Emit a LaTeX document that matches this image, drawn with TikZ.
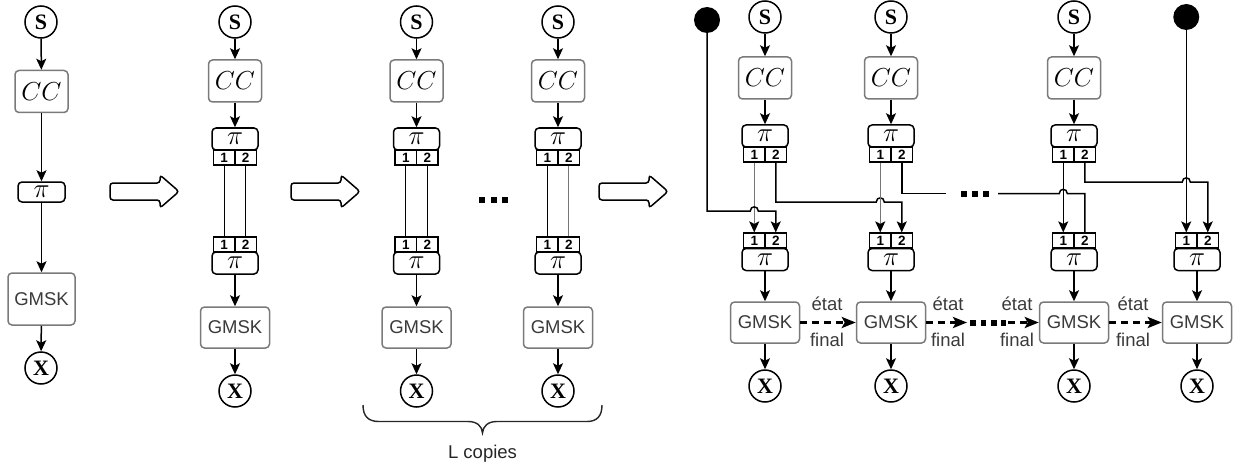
\RequirePackage{fix-cm}
\documentclass[tikz,border=0pt]{standalone}
\usepackage{fontspec}
\newfontfamily\sansf{Liberation Sans}
\newfontfamily\seriff{Liberation Serif}
\usetikzlibrary{arrows.meta,calc}
\definecolor{gbord}{HTML}{7A7A7A}
\definecolor{gtext}{HTML}{3A3A3A}
\definecolor{lgray}{HTML}{767676}

\newcommand{\mktop}[6]{%
  \node[circ] (#1S) at (#2,#3) {S};
  \node[ccbox] (#1C) at (#2,#4) {$CC$};
  \node[pibox] (#1P) at (#2,#5) {$\pi$};
  \node[cellbox] (#1ta) at (#2-10.75,#6) {1};
  \node[cellbox] (#1tb) at (#2+10.75,#6) {2};
  \draw[arr] (#1S) -- (#1C);
  \draw[arr] (#1C) -- (#1P);
}
\newcommand{\mkbot}[6]{%
  \node[cellbox] (#1ba) at (#2-10.75,#3) {1};
  \node[cellbox] (#1bb) at (#2+10.75,#3) {2};
  \node[pibox] (#1Q) at (#2,#4) {$\pi$};
  \node[gbox] (#1G) at (#2,#5) {GMSK};
  \node[circ] (#1X) at (#2,#6) {X};
  \draw[arr] (#1Q) -- (#1G);
  \draw[arr] (#1G) -- (#1X);
}
\newcommand{\bigarr}[1]{%
  \draw[bigarrow] (#1,191.5) -- (#1,183) -- (#1+50,183) -- (#1+50,175) -- (#1+69,191.5) -- (#1+50,208) -- (#1+50,200) -- (#1,200) -- cycle;}

\begin{document}
\begin{tikzpicture}[x=1pt,y=-1pt,
  conn/.style={line width=1.5pt,draw=black},
  arr/.style={conn,-{Stealth[length=11pt,width=10pt,inset=2.5pt,color=black]}},
  circ/.style={circle,draw,line width=1.5pt,minimum size=32pt,inner sep=0pt,
    font=\seriff\bfseries\fontsize{22}{22}\selectfont},
  ccbox/.style={draw=gbord,line width=1.5pt,rounded corners=4pt,minimum width=53pt,
    minimum height=42pt,inner sep=0pt,font=\fontsize{26}{26}\selectfont},
  gbox/.style={draw=gbord,line width=1.5pt,rounded corners=4pt,minimum width=69pt,
    minimum height=41pt,inner sep=0pt,text=gtext,font=\sansf\fontsize{18.5}{18.5}\selectfont},
  pibox/.style={draw,line width=1.5pt,rounded corners=4pt,minimum width=46pt,
    minimum height=22pt,inner sep=0pt,font=\fontsize{27}{27}\selectfont},
  cellbox/.style={draw,line width=1.2pt,minimum width=21.5pt,minimum height=15pt,
    inner sep=0pt,font=\sansf\bfseries\fontsize{13.5}{13.5}\selectfont},
  lab/.style={text=gtext,font=\sansf\fontsize{18.5}{18.5}\selectfont,inner sep=0pt,anchor=base},
  darr/.style={line width=2.8pt,dash pattern=on 7pt off 5pt,-{Stealth[length=14pt,width=11pt,inset=3pt]}},
  bigarrow/.style={draw,line width=1.5pt,rounded corners=3pt,fill=white},
  bdot/.style={circle,fill=black,minimum size=26pt,inner sep=0pt}
]
\useasboundingbox (0,0) rectangle (1233,468);

% ---------- panel 1
\node[circ] (aS) at (41,22) {S};
\node[ccbox] (aC) at (41.5,91.5) {$CC$};
\node[pibox,minimum width=47pt,minimum height=20pt] (aP) at (41.5,192) {$\pi$};
\node[gbox,minimum width=67pt,minimum height=52pt] (aG) at (41.5,299) {GMSK};
\node[circ] (aX) at (41,368) {X};
\draw[arr] (aS) -- (aC);
\draw[arr] (aC) -- (aP);
\draw[arr] (aP) -- (aG);
\draw[arr] (aG) -- (aX);

% ---------- big arrows
\bigarr{110}
\bigarr{291}
\bigarr{599}

% ---------- panel 2
\mktop{b}{235}{22}{81}{139}{157.5}
\mkbot{b}{235}{244.5}{263}{327.5}{391}
\draw[conn,line width=1.3pt] (bta) -- (bba);
\draw[conn,line width=1.3pt] (btb) -- (bbb);

% ---------- panel 3
\mktop{c}{416.5}{22}{81}{139}{157.5}
\mkbot{c}{416.5}{244.5}{263}{327.5}{391}
\draw[conn,line width=1pt] (cta) -- (cba);
\draw[conn,line width=1.3pt] (ctb) -- (cbb);
\mktop{e}{558}{22}{81}{139}{157.5}
\mkbot{e}{558}{244.5}{263}{327.5}{391}
\draw[conn,line width=1.3pt] (eta) -- (eba);
\draw[conn,line width=1.2pt,draw=lgray] (etb) -- (ebb);
\fill (478.5,197) rectangle (484.5,203);
\fill (490.5,197) rectangle (496.5,203);
\fill (502,197) rectangle (508,203);
\draw[line width=1.4pt,draw=black!85]
  (363,405) .. controls (363,416) and (368,421.5) .. (379,421.5) -- (468,421.5)
  .. controls (477,421.5) and (482,426) .. (482.5,433)
  .. controls (483,426) and (488,421.5) .. (497,421.5) -- (587,421.5)
  .. controls (597,421.5) and (602,416) .. (602,405);
\node[lab,text=black!85] (lcop) at (482.5,458) {L copies};

% ---------- panel 4
\node[bdot] (dotA) at (707,20) {};
\node[bdot] (dotB) at (1186.25,17) {};
\mktop{u1}{765}{17}{78}{136}{154.5}
\mkbot{u1}{765}{240.5}{259.5}{322.5}{386}
\mktop{u2}{891}{17}{78}{136}{154.5}
\mkbot{u2}{891}{240.5}{259.5}{322.5}{386}
\mktop{u3}{1074}{17}{78}{136}{154.5}
\mkbot{u3}{1074}{240.5}{259.5}{322.5}{386}
\mkbot{u4}{1197}{240.5}{259.5}{322.5}{386}

\draw[arr,draw=lgray] (u1ta) -- (u1ba);
\draw[arr] (dotA) -- (dotA |- 0,211) -- (750.25,211)
  .. controls (750.25,205.5) and (758.25,205.5) .. (758.25,211) -- (u1bb |- 0,211) -- (u1bb);
\draw[arr] (u1tb) -- (u1tb |- 0,202) -- (876.25,202)
  .. controls (876.25,196.5) and (884.25,196.5) .. (884.25,202) -- (u2bb |- 0,202) -- (u2bb);
\draw[arr,draw=lgray] (u2ta) -- (u2ba);
\coordinate (gapL) at (946,193.5);
\coordinate (gapR) at (998,193.5);
\draw[conn] (u2tb) -- (u2tb |- gapL) -- (gapL);
\draw[conn] (gapR) -- (1059.25,193.5)
  .. controls (1059.25,188) and (1067.25,188) .. (1067.25,193.5) -- (u3bb |- gapR) -- (u3bb);
\fill (960.5,190.5) rectangle (966.5,196.5);
\fill (972,190.5) rectangle (978,196.5);
\fill (983,190.5) rectangle (989,196.5);
\draw[arr] (u3ta) -- (u3ba);
\draw[arr] (u3tb) -- (u3tb |- 0,182) -- (1182.25,182)
  .. controls (1182.25,176.5) and (1190.25,176.5) .. (1190.25,182) -- (u4bb |- 0,182) -- (u4bb);
\draw[arr] (dotB) -- (u4ba);

% state arrows
\draw[darr] (u1G) -- (u2G);
\node[lab] (e1) at (827,310) {état};
\node[lab] (f1) at (827,346.5) {final};
\coordinate (m1) at (967,322.5);
\coordinate (m2) at (1008,322.5);
\draw[darr] (u2G) -- (m1);
\fill (970,319.5) rectangle (975.5,325.5);
\fill (980.5,319.5) rectangle (986,325.5);
\fill (991,319.5) rectangle (996.5,325.5);
\fill (1001,319.5) rectangle (1006,325.5);
\draw[darr] (m2) -- (u3G);
\node[lab] (e2) at (948,310) {état};
\node[lab] (f2) at (948,346.5) {final};
\node[lab] (e3) at (1017,310) {état};
\node[lab] (f3) at (1017,346.5) {final};
\draw[darr] (u3G) -- (u4G);
\node[lab] (e4) at (1133,310) {état};
\node[lab] (f4) at (1133,346.5) {final};
\end{tikzpicture}
\end{document}
